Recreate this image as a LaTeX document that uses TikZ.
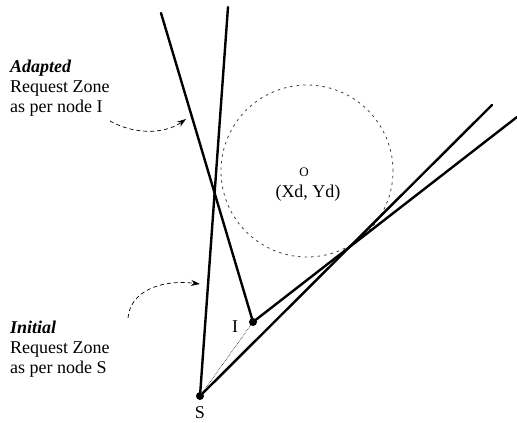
\documentclass[tikz,border=0pt]{standalone}
\usepackage{fontspec}
\setmainfont{Liberation Serif}
\usetikzlibrary{arrows.meta}

\begin{document}
\begin{tikzpicture}[x=1pt, y=-1pt, every node/.style={inner sep=0pt, align=left, font=\fontsize{18}{20}\selectfont},
	zone/.style={line width=2.4pt, line cap=round},
	spot/.style={circle, fill=black, minimum size=8pt},
	pointer/.style={dash pattern=on 4pt off 3pt, line width=0.7pt, -{Stealth[length=9pt, width=6pt]}}]
				\useasboundingbox (0,0) rectangle (517,423);
				\node[spot] (S) at (200,396) {};
				\node[spot] (I) at (253,322) {};
				\coordinate (O) at (307,171);
				\coordinate (stop) at (228,7);
				\coordinate (send) at (492,105);
				\coordinate (itop) at (161,13);
				\coordinate (iend) at (517,117);
				\node (centre) at (304,172) {\fontsize{13}{13}\selectfont O};
				\node (coords) at (308,193) {(Xd, Yd)};
				\node (ilabel) at (235,327) {I};
				\node (slabel) at (200,413) {S};
				\node[anchor=north west] (adapted) at (10,60) {\textbf{\textit{Adapted}}\\Request Zone\\as per node I};
				\node[anchor=north west] (initial) at (10,321) {\textbf{\textit{Initial}}\\Request Zone\\as per node S};
				\coordinate (atail) at (110,121);
				\coordinate (ahead) at (186,119);
				\coordinate (btail) at (128,318);
				\coordinate (bhead) at (200,284);
				
				\draw[dash pattern=on 2.5pt off 4pt, line width=0.8pt, black!75] (O) circle[radius=86pt];
				\draw[densely dotted, line width=0.6pt] (S.center) -- (I.center);
				\draw[zone] (S.center) -- (stop);
				\draw[zone] (S.center) -- (send);
				\draw[zone] (I.center) -- (itop);
				\draw[zone] (I.center) -- (iend);
				\draw[pointer] (atail) .. controls (135,135) and (165,134) .. (ahead);
				\draw[pointer] (btail) .. controls (130,292) and (160,279) .. (bhead);
			\end{tikzpicture}
\end{document}
